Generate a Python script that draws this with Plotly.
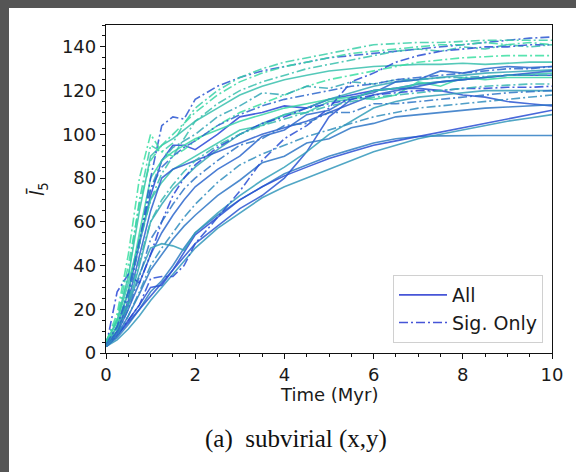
import plotly.graph_objects as go

# time grid (Myr)
T = [0, 0.25, 0.5, 0.75, 1, 1.25, 1.5, 1.75, 2, 2.5, 3, 3.5, 4, 4.5, 5,
     5.5, 6, 6.5, 7, 7.5, 8, 8.5, 9, 9.5, 10]

# "All" runs (solid); colour fraction 0=blue .. 1=green
all_colfrac = [0.35, 0.5, 0.05, 0.1, 0.0, 0.75, 0.9, 0.6, 0.2, 0.3, 0.55, 0.8, 0.15]
all_runs = [
    [3, 7, 13, 20, 28, 33, 40, 48, 55, 63, 70, 76, 82, 86, 90, 93, 96, 98, 99, 99.3, 99.5, 99.5, 99.5, 99.5, 99.5],
    [3, 6, 11, 17, 24, 30, 36, 42, 48, 57, 64, 71, 76, 80, 84, 88, 92, 95, 98, 100, 102, 104, 106, 107.5, 109],
    [3, 8, 15, 22, 30, 31, 38, 46, 54, 62, 70, 76, 81, 85, 89, 92, 95, 97, 99, 101, 103, 105, 107, 109, 111],
    [3, 8, 14, 20, 26, 32, 38, 44, 50, 58, 66, 72, 80, 92, 108, 116, 120, 121, 121, 120, 118, 117, 115, 114, 113],
    [4, 12, 28, 50, 72, 88, 95, 95, 93, 100, 108, 110, 113, 112, 116, 118, 120, 121, 123, 124, 125, 126, 127, 127, 127],
    [5, 15, 35, 65, 90, 95, 98, 102, 106, 112, 118, 122, 125, 127, 129, 130, 131, 131.5, 132, 132, 132.5, 132, 132.5, 133, 133],
    [4, 12, 28, 55, 80, 88, 92, 95, 98, 102, 106, 109, 112, 114, 116, 117, 116, 118, 124, 122, 126, 125, 126, 126, 126],
    [4, 10, 22, 40, 60, 68, 75, 80, 85, 93, 100, 105, 109, 112, 116, 119, 122, 124, 125, 126, 127, 128, 128.5, 129, 129.5],
    [3, 9, 20, 32, 45, 55, 63, 70, 76, 84, 90, 99, 102, 109, 111, 117, 119, 124, 125, 129, 128, 130, 131, 130.5, 131],
    [3, 8, 17, 27, 38, 45, 52, 58, 63, 72, 79, 87, 90, 96, 98, 103, 105, 108, 109, 110, 111, 112, 112.5, 113, 113.5],
    [3, 10, 22, 36, 48, 50, 49, 47, 55, 64, 72, 79, 85, 92, 100, 106, 112, 115, 117, 118, 119, 120, 120, 120, 120],
    [5, 14, 32, 52, 70, 78, 84, 87, 90, 96, 102, 104, 109, 110, 115, 116, 120, 121, 123, 124, 125, 126, 127, 127.5, 128],
    [3, 10, 24, 45, 65, 80, 84, 86, 88, 92, 96, 100, 103, 106, 110, 114, 118, 120, 122, 124, 125, 126, 127, 128, 129],
]

# "Sig. Only" runs (dash-dot)
sig_colfrac = [0.1, 0.85, 0.95, 0.75, 0.05, 0.0, 0.6, 0.3, 0.7, 0.2, 0.45, 0.9]
sig_runs = [
    [4, 12, 25, 50, 80, 104, 108, 107, 116, 122, 126, 129, 131, 133, 135, 136, 137, 138, 139, 140, 141, 142, 143, 144, 144.5],
    [5, 15, 35, 70, 95, 92, 96, 105, 112, 120, 126, 130, 133, 135, 137, 139, 141, 141.5, 142, 142, 142.5, 143, 143, 143, 143],
    [5, 18, 45, 80, 100, 92, 90, 93, 97, 104, 110, 114, 118, 122, 125, 127, 129, 131, 133, 134, 135, 135.5, 136, 136, 136],
    [4, 12, 28, 50, 70, 82, 90, 98, 106, 114, 120, 124, 127, 130, 132, 134, 136, 138, 139, 138, 140, 139, 141, 140, 141],
    [3, 8, 15, 22, 34, 35, 35, 40, 50, 62, 74, 88, 98, 104, 112, 124, 128, 133, 136, 138, 139, 140, 140, 141, 141],
    [3, 28, 36, 32, 45, 60, 72, 80, 86, 94, 100, 105, 108, 112, 114, 116, 118, 119, 120, 120, 121, 121, 121.5, 121.5, 122],
    [4, 12, 28, 50, 75, 88, 94, 97, 100, 108, 113, 119, 118, 122, 121, 124, 123, 125, 125, 126, 126, 126.5, 127, 127, 127],
    [3, 9, 20, 35, 52, 60, 68, 75, 80, 88, 95, 98, 104, 105, 110, 110, 114, 114, 115, 116, 117, 118, 119, 119.5, 120],
    [4, 11, 24, 42, 60, 70, 77, 83, 88, 95, 100, 104, 107, 110, 113, 115, 117, 118, 119, 120, 121, 122, 122.5, 123, 123],
    [4, 12, 28, 52, 75, 85, 90, 94, 97, 104, 109, 113, 116, 118, 120, 122, 123, 125, 126, 127, 128, 129, 130, 130, 131],
    [3, 8, 17, 28, 40, 48, 55, 62, 68, 78, 86, 91, 95, 99, 102, 105, 108, 110, 112, 113, 114, 115, 116, 117, 118],
    [5, 16, 40, 68, 88, 95, 100, 105, 110, 118, 124, 128, 131, 133, 135, 137, 138, 139, 140, 141, 141, 142, 141, 142, 141],
]

legend_labels = ["All", "Sig. Only"]

BLUE = (40, 70, 215)
GREEN = (60, 232, 160)


def cmap(f):
    r = BLUE[0] + (GREEN[0] - BLUE[0]) * f
    g = BLUE[1] + (GREEN[1] - BLUE[1]) * f
    b = BLUE[2] + (GREEN[2] - BLUE[2]) * f
    return f"rgba({int(r)},{int(g)},{int(b)},0.85)"


DASHDOT = "9px,3px,2px,3px"

fig = go.Figure()
for f, ys in zip(all_colfrac, all_runs):
    fig.add_trace(go.Scatter(x=T, y=ys, mode="lines", showlegend=False,
                             line=dict(color=cmap(f), width=1.6)))
for f, ys in zip(sig_colfrac, sig_runs):
    fig.add_trace(go.Scatter(x=T, y=ys, mode="lines", showlegend=False,
                             line=dict(color=cmap(f), width=1.6, dash=DASHDOT)))

# legend proxies
fig.add_trace(go.Scatter(x=[None], y=[None], mode="lines", name=legend_labels[0],
                         line=dict(color="rgb(70,85,215)", width=1.6)))
fig.add_trace(go.Scatter(x=[None], y=[None], mode="lines", name=legend_labels[1],
                         line=dict(color="rgb(70,85,215)", width=1.6, dash=DASHDOT)))

axis_font = dict(family="DejaVu Sans", size=18, color="#1a1a1a")
common = dict(showgrid=False, zeroline=False, showline=True, linecolor="#111",
              linewidth=1.3, mirror=True, ticks="outside", ticklen=5, tickwidth=1.2,
              tickcolor="#111", tickfont=axis_font)

fig.update_xaxes(range=[0, 10], tick0=0, dtick=2,
                 minor=dict(dtick=0.5, ticks="outside", ticklen=3, tickcolor="#111"),
                 **common)
fig.update_yaxes(range=[0, 150], tick0=0, dtick=20,
                 minor=dict(dtick=5, ticks="outside", ticklen=3, tickcolor="#111"),
                 **common)

W, H = 576, 472
L, R, TOP, B = 106, 24, 25, 119
pw, ph = W - L - R, H - TOP - B


def px(xp):
    return (xp - L) / pw


def py(yp):
    return (H - B - yp) / ph


fig.update_layout(
    width=W, height=H,
    margin=dict(l=L, r=R, t=TOP, b=B),
    plot_bgcolor="white", paper_bgcolor="white",
    font=dict(family="DejaVu Sans", color="#1a1a1a"),
    legend=dict(x=px(543), y=py(343), xanchor="right", yanchor="bottom",
                bgcolor="rgba(255,255,255,0.85)", bordercolor="#d0d0d0", borderwidth=1,
                font=dict(family="DejaVu Sans", size=19, color="#1a1a1a"),
                tracegroupgap=0, itemwidth=48),
    annotations=[
        dict(text="Time (Myr)", x=0.5, y=py(395), xref="paper", yref="paper",
             showarrow=False, xanchor="center", yanchor="middle",
             font=dict(family="DejaVu Sans", size=18, color="#1a1a1a")),
        dict(text="<i>l\u0304</i><sub>5</sub>", x=px(38), y=0.5, xref="paper", yref="paper",
             showarrow=False, xanchor="center", yanchor="middle", textangle=-90,
             font=dict(family="DejaVu Sans", size=19, color="#1a1a1a")),
        dict(text="(a)  subvirial (x,y)", x=px(296), y=py(439), xref="paper", yref="paper",
             showarrow=False, xanchor="center", yanchor="middle",
             font=dict(family="Liberation Serif", size=25, color="#111")),
    ],
    shapes=[
        dict(type="rect", xref="paper", yref="paper", x0=px(0), x1=px(9),
             y0=py(H), y1=py(0), fillcolor="#555555", line=dict(width=0), layer="above"),
        dict(type="rect", xref="paper", yref="paper", x0=px(0), x1=px(W),
             y0=py(8), y1=py(0), fillcolor="#555555", line=dict(width=0), layer="above"),
    ],
)

fig.write_html("out.html")
